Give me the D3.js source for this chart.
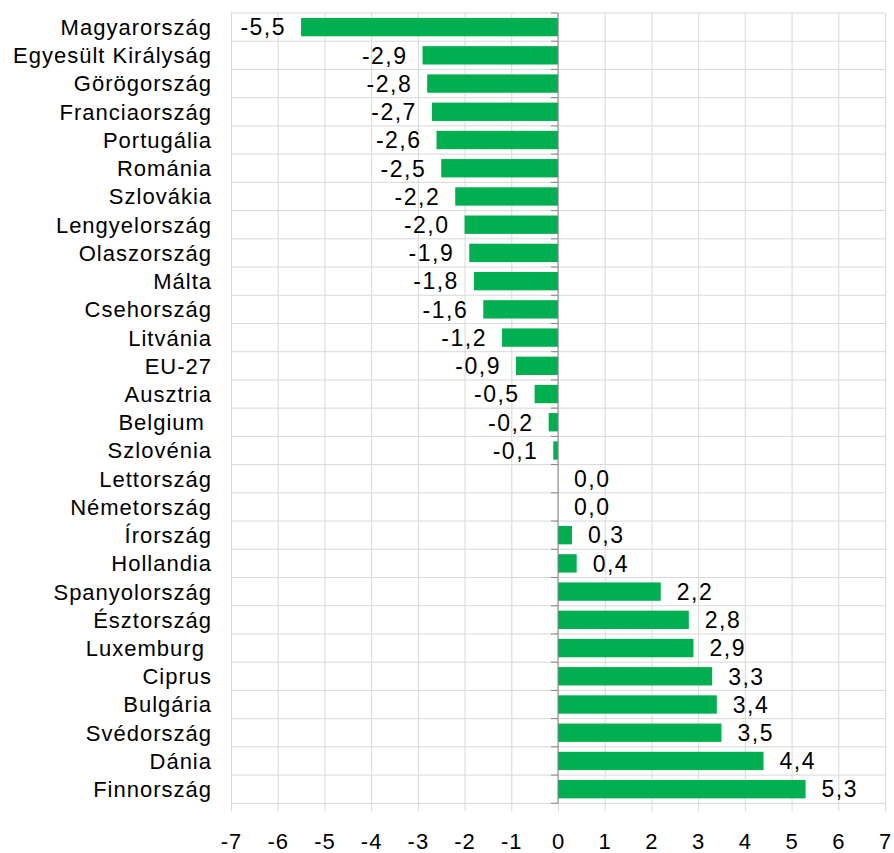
<!DOCTYPE html>
<html>
<head>
<meta charset="utf-8">
<script src="https://cdn.jsdelivr.net/npm/d3@7"></script>
<style>
  body { margin: 0; background: #fff; }
  text { font-family: "Liberation Sans", Arial, sans-serif; fill: #000; }
</style>
</head>
<body>
<script>
var svgWidth = 894;
var svgHeight = 853;

// data
var countries = ["Magyarország", "Egyesült Királyság", "Görögország", "Franciaország",
  "Portugália", "Románia", "Szlovákia", "Lengyelország", "Olaszország", "Málta",
  "Csehország", "Litvánia", "EU-27", "Ausztria", "Belgium ", "Szlovénia", "Lettország",
  "Németország", "Írország", "Hollandia", "Spanyolország", "Észtország", "Luxemburg ",
  "Ciprus", "Bulgária", "Svédország", "Dánia", "Finnország"];
var values = [-5.5, -2.9, -2.8, -2.7, -2.6, -2.5, -2.2, -2.0, -1.9, -1.8, -1.6, -1.2,
  -0.9, -0.5, -0.2, -0.1, 0.0, 0.0, 0.3, 0.4, 2.2, 2.8, 2.9, 3.3, 3.4, 3.5, 4.4, 5.3];
var xTicks = [-7, -6, -5, -4, -3, -2, -1, 0, 1, 2, 3, 4, 5, 6, 7];

var data = countries.map(function(c, i) {
  return { name: c, value: values[i] };
});

var plot = { left: 231, right: 885, top: 13, bottom: 803.3 };

var svg = d3.select("body")
  .append("svg")
  .attr("width", svgWidth)
  .attr("height", svgHeight);

var x = d3.scaleLinear()
  .domain([xTicks[0], xTicks[xTicks.length - 1]])
  .range([plot.left, plot.right]);

var y = d3.scaleBand()
  .domain(countries)
  .range([plot.top, plot.bottom])
  .paddingInner(0.35)
  .paddingOuter(0.175);

var gridColor = "#d9d9d9";

// horizontal gridlines at category boundaries
svg.append("g")
  .selectAll("line")
  .data(d3.range(countries.length + 1))
  .enter()
  .append("line")
  .attr("x1", plot.left)
  .attr("x2", plot.right)
  .attr("y1", function(i) { return plot.top + i * y.step(); })
  .attr("y2", function(i) { return plot.top + i * y.step(); })
  .attr("stroke", gridColor)
  .attr("stroke-width", 1);

// vertical gridlines + bottom tick labels
var xAxis = svg.append("g")
  .attr("transform", "translate(0," + plot.bottom + ")")
  .call(d3.axisBottom(x)
    .tickValues(xTicks)
    .tickSize(-(plot.bottom - plot.top))
    .tickPadding(30)
    .tickFormat(function(d) { return String(d); }));

xAxis.select(".domain").remove();
xAxis.selectAll(".tick line")
  .attr("stroke", gridColor)
  .attr("y1", 8);
xAxis.selectAll(".tick text")
  .attr("fill", "#000")
  .style("font-size", "22px")
  .style("letter-spacing", "1px");

// bars
svg.append("g")
  .selectAll("rect")
  .data(data)
  .enter()
  .append("rect")
  .attr("x", function(d) { return x(Math.min(0, d.value)); })
  .attr("y", function(d) { return y(d.name); })
  .attr("width", function(d) { return Math.abs(x(d.value) - x(0)); })
  .attr("height", y.bandwidth())
  .attr("fill", "#00b050");

// zero axis line with tick marks
var zero = svg.append("g");
zero.append("line")
  .attr("x1", x(0)).attr("x2", x(0))
  .attr("y1", plot.top).attr("y2", plot.bottom)
  .attr("stroke", "#868686");
zero.selectAll("line.yt")
  .data(d3.range(countries.length + 1))
  .enter()
  .append("line")
  .attr("class", "yt")
  .attr("x1", x(0) - 7)
  .attr("x2", x(0))
  .attr("y1", function(i) { return plot.top + i * y.step(); })
  .attr("y2", function(i) { return plot.top + i * y.step(); })
  .attr("stroke", "#868686");

// category labels
var yAxis = svg.append("g")
  .attr("transform", "translate(" + plot.left + ",0)")
  .call(d3.axisLeft(y).tickSize(0).tickPadding(19));
yAxis.select(".domain").remove();
yAxis.selectAll(".tick text")
  .attr("fill", "#000")
  .attr("dy", "0.36em")
  .style("font-size", "22px")
  .style("letter-spacing", "1px")
  .style("white-space", "pre");

// value labels
svg.append("g")
  .selectAll("text")
  .data(data)
  .enter()
  .append("text")
  .attr("x", function(d) { return d.value < 0 ? x(d.value) - 15 : x(d.value) + 16; })
  .attr("y", function(d) { return y(d.name) + y.bandwidth() / 2; })
  .attr("dy", "0.36em")
  .attr("text-anchor", function(d) { return d.value < 0 ? "end" : "start"; })
  .style("font-size", "23px")
  .style("letter-spacing", "1.5px")
  .text(function(d) { return d.value.toFixed(1).replace(".", ","); });
</script>
</body>
</html>
